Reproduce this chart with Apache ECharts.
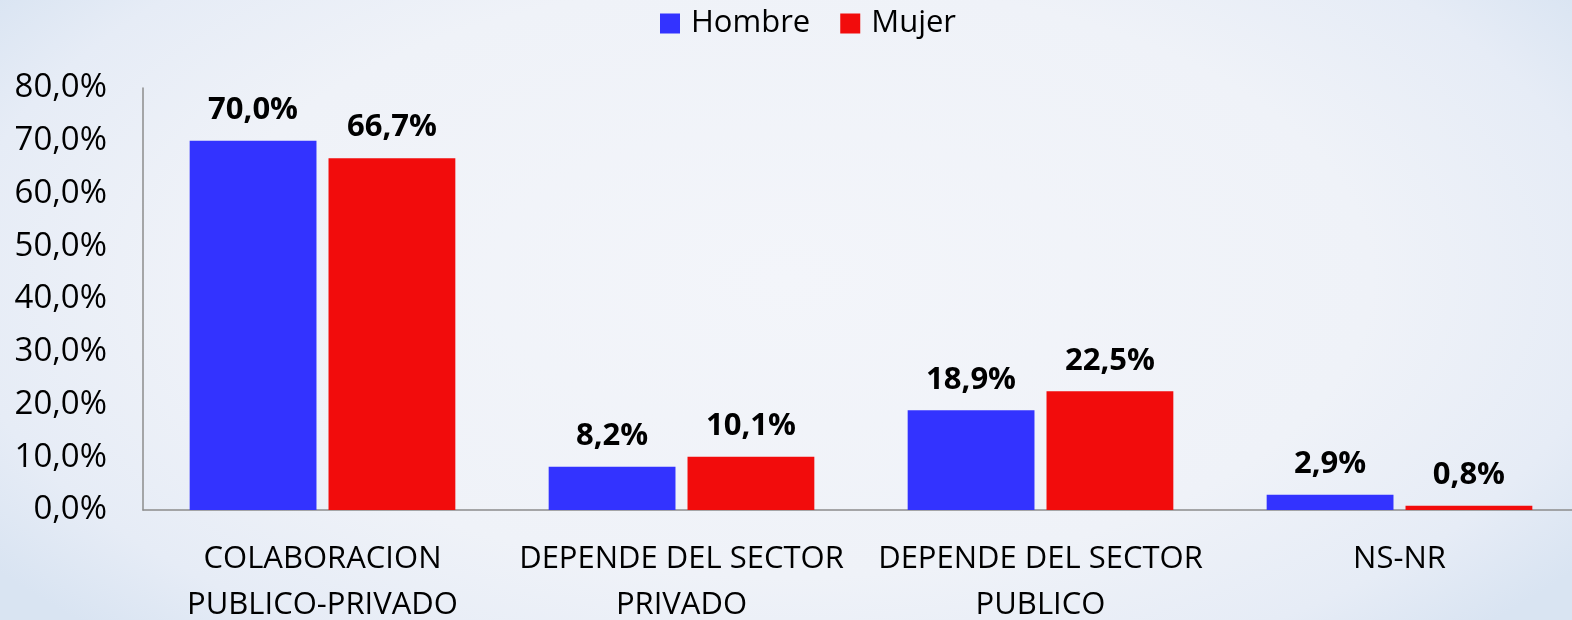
<!DOCTYPE html>
<html>
<head>
<meta charset="utf-8">
<script src="https://cdn.jsdelivr.net/npm/echarts@6/dist/echarts.min.js"></script>
<style>
  html, body { margin: 0; padding: 0; }
  #chart {
    width: 1572px;
    height: 620px;
    background: radial-gradient(ellipse 62% 80% at 50% 45%, #f3f5fa 0%, #eff2f8 60%, #e6ecf6 85%, #d9e4f2 100%);
  }
</style>
</head>
<body>
<div id="chart"></div>
<script>
const categories = [
  'COLABORACION\nPUBLICO-PRIVADO',
  'DEPENDE DEL SECTOR\nPRIVADO',
  'DEPENDE DEL SECTOR\nPUBLICO',
  'NS-NR'
]
const hombre = [70.0, 8.2, 18.9, 2.9]
const mujer = [66.7, 10.1, 22.5, 0.8]

const fontFamily = '"Open Sans", "Noto Sans", sans-serif'
const pct = (v) => Number(v).toFixed(1).replace('.', ',') + '%'

const chart = echarts.init(document.getElementById('chart'))

const labelStyle = {
  show: true,
  position: 'top',
  distance: 15,
  color: '#000',
  fontFamily: fontFamily,
  fontWeight: 'bold',
  fontSize: 31,
  formatter: (p) => pct(p.value)
}

chart.setOption({
  backgroundColor: 'transparent',
  animation: false,
  legend: {
    top: 3,
    left: 655,
    itemWidth: 20,
    itemHeight: 20,
    itemGap: 30,
    icon: 'rect',
    textStyle: {
      color: '#000',
      fontFamily: fontFamily,
      fontSize: 31,
      padding: [0, 0, 0, 6]
    },
    data: ['Hombre', 'Mujer']
  },
  grid: {
    left: 143,
    right: -7,
    top: 88,
    bottom: 110,
    outerBoundsMode: 'none'
  },
  xAxis: {
    type: 'category',
    data: categories,
    axisLine: { lineStyle: { color: '#8c8c8c', width: 1.5 } },
    axisTick: { show: false },
    axisLabel: {
      interval: 0,
      hideOverlap: false,
      margin: 26,
      color: '#000',
      fontFamily: fontFamily,
      fontSize: 31,
      lineHeight: 46
    }
  },
  yAxis: {
    type: 'value',
    min: 0,
    max: 80,
    interval: 10,
    axisLine: { show: true, lineStyle: { color: '#8c8c8c', width: 1.5 } },
    axisTick: { show: false },
    splitLine: { show: false },
    axisLabel: {
      margin: 36,
      color: '#000',
      fontFamily: fontFamily,
      fontSize: 33,
      formatter: pct
    }
  },
  series: [
    {
      name: 'Hombre',
      type: 'bar',
      data: hombre,
      barGap: '9.5%',
      barCategoryGap: '26%',
      itemStyle: { color: '#3333ff' },
      label: labelStyle
    },
    {
      name: 'Mujer',
      type: 'bar',
      data: mujer,
      itemStyle: { color: '#f20c0c' },
      label: labelStyle
    }
  ]
})
</script>
</body>
</html>
